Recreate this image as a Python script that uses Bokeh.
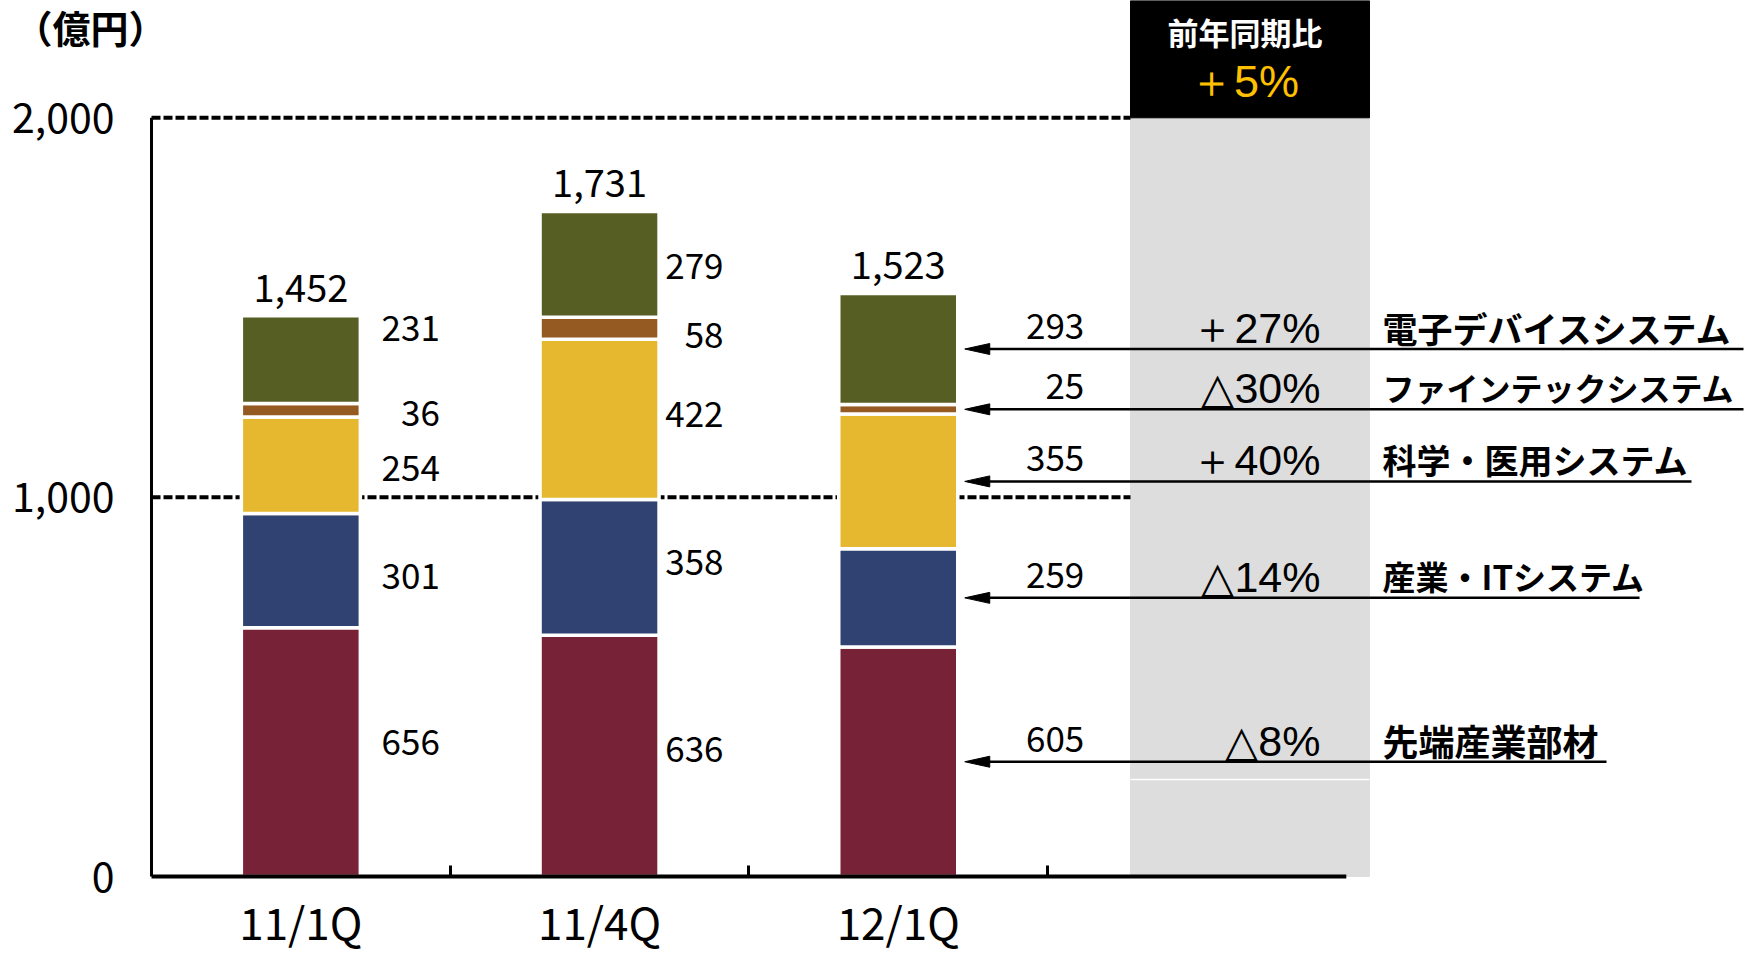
import numpy as np
from bokeh.plotting import figure
from bokeh.models import Range1d, ColumnDataSource, FixedTicker, LinearAxis
from bokeh.core.properties import value
from bokeh.embed import file_html
from bokeh.resources import INLINE

# ---------------- data ----------------
categories = ["11/1Q", "11/4Q", "12/1Q"]
segment_names = ["先端産業部材", "産業・ITシステム", "科学・医用システム",
                 "ファインテックシステム", "電子デバイスシステム"]
seg_colors = ["#782237", "#2F4271", "#E5B82F", "#955A22", "#575E24"]
adv_materials = [656, 636, 605]
industrial_it = [301, 358, 259]
science_medical = [254, 422, 355]
finetech = [36, 58, 25]
electronic = [231, 279, 293]
total_labels = ["1,452", "1,731", "1,523"]
yoy_segments = ["△8%", "△14%", "＋40%", "△30%", "＋27%"]
yoy_total = "＋5%"
header_text = "前年同期比"
unit_text = "（億円）"
y_ticks = [0, 1000, 2000]
y_tick_labels = ["0", "1,000", "2,000"]

# ---------------- layout / style ----------------
W, H = 1757, 954
X0_PX, Y0_PX = 151, 876          # pixel position of the axes origin
KX = 298.7                        # px per category slot
KY = 0.37935                      # px per 億円
NUM = "Noto Sans CJK JP"
CJK = "Noto Sans CJK JP"
SANS = "Liberation Sans"


def dx(px):
    return px / KX


def dy(px):
    return px / KY


ORIGIN_X = 0.5                    # slot boundary where the y axis sits
n_slots = len(categories) + 1
xs = [i + 1 for i in range(len(categories))]
BAR_W = dx(119)
PANEL_L = ORIGIN_X + dx(979)
PANEL_R = ORIGIN_X + dx(1218)

p = figure(width=W, height=H, output_backend="svg", toolbar_location=None,
           x_range=Range1d(ORIGIN_X - dx(X0_PX), ORIGIN_X + dx(W - X0_PX)),
           y_range=Range1d(-dy(H - Y0_PX), dy(Y0_PX)),
           x_axis_type=None, y_axis_type=None, min_border=0)
p.outline_line_color = None
p.background_fill_color = "white"
p.border_fill_color = "white"

# grey comparison panel + black header
p.quad(left=PANEL_L, right=PANEL_R, bottom=0, top=max(y_ticks), color="#DDDDDD")
p.quad(left=PANEL_L, right=PANEL_R, bottom=max(y_ticks), top=p.y_range.end, color="black")
p.segment(x0=PANEL_L, x1=PANEL_R, y0=dy(876 - 779), y1=dy(876 - 779),
          line_color="white", line_width=1.5)

# dashed reference lines
grid_vals = y_ticks[1:]
p.segment(x0=[ORIGIN_X] * len(grid_vals), x1=[PANEL_L] * len(grid_vals),
          y0=grid_vals, y1=grid_vals, line_color="black", line_width=4, line_dash="9 3")

# stacked bars
series = [adv_materials, industrial_it, science_medical, finetech, electronic]
keys = ["s%d" % k for k in range(len(series))]
src = ColumnDataSource(dict(x=xs, **{k: v for k, v in zip(keys, series)}))
p.vbar_stack(keys, x="x", width=BAR_W, color=seg_colors, line_color="white",
             line_width=3.5, source=src)

vals = np.array(series, dtype=float)          # shape (segments, bars)
bottoms = np.vstack([np.zeros(vals.shape[1]), np.cumsum(vals, axis=0)[:-1]])
mids = bottoms + vals / 2
tops = vals.sum(axis=0)

# axis lines
p.segment(x0=ORIGIN_X, x1=ORIGIN_X + n_slots, y0=0, y1=0, line_color="black", line_width=4)
p.segment(x0=ORIGIN_X, x1=ORIGIN_X, y0=0, y1=max(y_ticks), line_color="black", line_width=3)

# value labels beside the first two bars
label_dx = [139, 124]
nudge = [[-10, 5, 3, 3, -32], [-7, -5, -5, 7, 2]]
lx, ly, lt, lo = [], [], [], []
for i in range(2):
    for k in range(len(series)):
        lx.append(xs[i]); ly.append(mids[k, i]); lt.append(str(int(vals[k, i])))
        lo.append(nudge[i][k])
p.text(x=lx, y=ly, text=lt, x_offset=[label_dx[0]] * 5 + [label_dx[1]] * 5, y_offset=lo,
       text_align="right", text_baseline="middle", text_font=value(NUM),
       text_font_size="35px", text_color="black")

# totals
p.text(x=xs, y=tops, text=total_labels, y_offset=-28, text_align="center",
       text_baseline="middle", text_font=value(NUM), text_font_size="38px",
       text_color="black")

# latest-quarter labels with arrows
last = len(categories) - 1
m_last = mids[:, last]
p.text(x=[xs[last]] * len(series), y=m_last, text=[str(int(v)) for v in vals[:, last]],
       x_offset=186, y_offset=-23, text_align="right", text_baseline="middle",
       text_font=value(NUM), text_font_size="35px", text_color="black")

tip = xs[last] + BAR_W / 2 + dx(7)
head_len, half_h = dx(25), dy(5.5)
underline_ext = [237, 270, 322, 374, 374]     # px beyond panel, per label (bottom->top)
p.segment(x0=[tip + head_len * 0.8] * len(series),
          x1=[PANEL_R + dx(e) for e in underline_ext],
          y0=m_last, y1=m_last, line_color="black", line_width=2.5)
p.patches(xs=[[tip, tip + head_len, tip + head_len] for _ in m_last],
          ys=[[m, m + half_h, m - half_h] for m in m_last], color="black")

# YoY percentages
p.text(x=[PANEL_R] * len(series), y=m_last, text=yoy_segments, x_offset=-49, y_offset=-21,
       text_align="right", text_baseline="middle", text_font=value(SANS),
       text_font_size="43px", text_color="black")

# segment names
name_sizes = ["36px", "33px", "34px", "32px", "35px"]
p.text(x=[PANEL_R] * len(series), y=m_last, text=segment_names, x_offset=13, y_offset=-22,
       text_align="left", text_baseline="middle", text_font=value(CJK),
       text_font_style="bold", text_font_size=name_sizes, text_color="black")

# header
pc = (PANEL_L + PANEL_R) / 2
p.text(x=[pc], y=[max(y_ticks)], text=[header_text], x_offset=-5, y_offset=-86,
       text_align="center", text_baseline="middle", text_font=value(CJK),
       text_font_style="bold", text_font_size="31px", text_color="white")
p.text(x=[pc], y=[max(y_ticks)], text=[yoy_total], x_offset=-6, y_offset=-36,
       text_align="center", text_baseline="middle", text_font=value(SANS),
       text_font_size="45px", text_color="#FFC000")

# unit
p.text(x=[ORIGIN_X], y=[max(y_ticks)], text=[unit_text], x_offset=-137, y_offset=-91,
       text_align="left", text_baseline="middle", text_font=value(CJK),
       text_font_style="bold", text_font_size="38px", text_color="black")

# axes
yax = LinearAxis(fixed_location=ORIGIN_X, ticker=FixedTicker(ticks=y_ticks),
                 major_label_overrides={t: l for t, l in zip(y_ticks, y_tick_labels)},
                 axis_line_color=None, major_tick_line_color=None, minor_tick_line_color=None,
                 major_label_standoff=31, major_label_text_font=NUM,
                 major_label_text_font_size="41px", major_label_text_color="black")
p.add_layout(yax, "left")

bounds = [ORIGIN_X + i for i in range(1, n_slots)]
xtick_ax = LinearAxis(fixed_location=0, ticker=FixedTicker(ticks=bounds),
                      major_label_overrides={b: "" for b in bounds},
                      axis_line_color=None, major_tick_in=11, major_tick_out=0,
                      major_tick_line_width=3, major_tick_line_color="black",
                      minor_tick_line_color=None)
p.add_layout(xtick_ax, "below")

xlab_ax = LinearAxis(fixed_location=0, ticker=FixedTicker(ticks=xs),
                     major_label_overrides={x: c for x, c in zip(xs, categories)},
                     axis_line_color=None, major_tick_line_color=None,
                     minor_tick_line_color=None, major_label_standoff=6,
                     major_label_text_font=NUM, major_label_text_font_size="44px",
                     major_label_text_color="black")
p.add_layout(xlab_ax, "below")

open("out.html", "w").write(file_html(p, INLINE))
